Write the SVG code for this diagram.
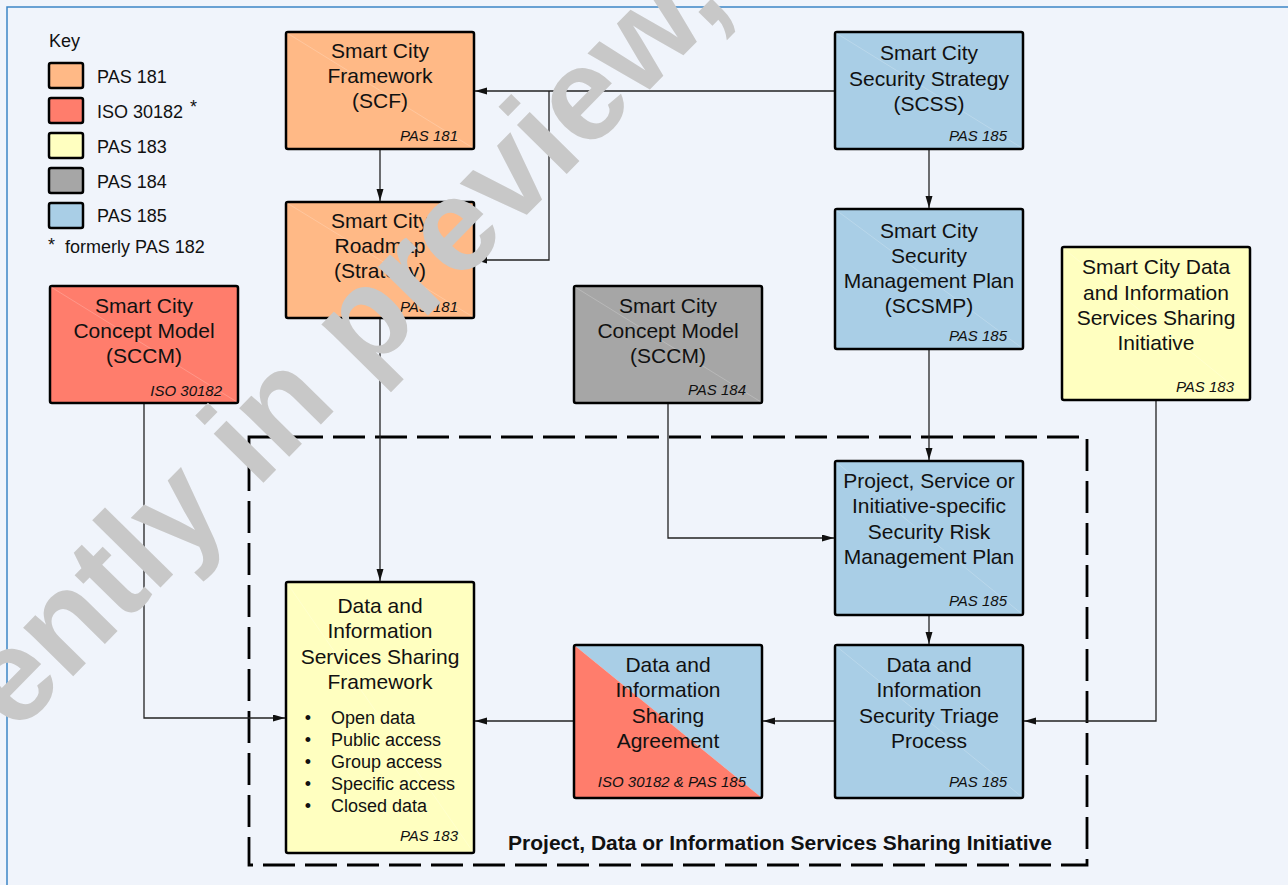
<svg xmlns="http://www.w3.org/2000/svg" width="1288" height="885" viewBox="0 0 1288 885">
<defs>
<style>
.t{font-family:"Liberation Sans",Arial,sans-serif;font-size:21px;fill:#111;text-anchor:middle}
.s{font-family:"Liberation Sans",Arial,sans-serif;font-size:15px;font-style:italic;fill:#111;text-anchor:end}
.k{font-family:"Liberation Sans",Arial,sans-serif;font-size:18px;fill:#111}
.b{font-family:"Liberation Sans",Arial,sans-serif;font-size:18px;fill:#111}
.box{stroke:#000;stroke-width:2.5}
.sw{stroke:#000;stroke-width:2.5}
.dg{stroke:#fff;stroke-opacity:0.25;stroke-width:0.8}
.c{fill:none;stroke:#222;stroke-width:1.3}
.o{fill:#FFB986}.r{fill:#FF7D6C}.y{fill:#FFFFC0}.g{fill:#A6A6A6}.bl{fill:#A9CEE6}
</style>
<marker id="ah" markerUnits="userSpaceOnUse" markerWidth="12" markerHeight="8" refX="12" refY="3.5" orient="auto">
<path d="M0,0 L12,3.5 L0,7 z" fill="#111"/>
</marker>
</defs>
<rect x="0" y="0" width="1288" height="885" fill="#F0F4FB"/>
<rect x="7" y="7" width="1300" height="900" fill="none" stroke="#3D85C6" stroke-width="1.5"/>

<g id="key">
<text class="k" x="49" y="47">Key</text>
<rect class="sw o" x="49" y="63" width="34" height="25" rx="2"/>
<rect class="sw r" x="49" y="98" width="34" height="25" rx="2"/>
<rect class="sw y" x="49" y="133" width="34" height="25" rx="2"/>
<rect class="sw g" x="49" y="168" width="34" height="25" rx="2"/>
<rect class="sw bl" x="49" y="203" width="34" height="25" rx="2"/>
<text class="k" x="97" y="83">PAS 181</text>
<text class="k" x="97" y="118">ISO 30182</text>
<text class="k" x="190" y="113" font-size="22">*</text>
<text class="k" x="97" y="153">PAS 183</text>
<text class="k" x="97" y="188">PAS 184</text>
<text class="k" x="97" y="222">PAS 185</text>
<text class="k" x="48" y="251" font-size="22">*</text>
<text class="k" x="65" y="253">formerly PAS 182</text>
</g>

<g id="frame">
<rect x="249" y="437" width="838" height="428" fill="none" stroke="#000" stroke-width="2.8" stroke-dasharray="32 10"/>
<text x="780" y="850" font-family="Liberation Sans,Arial,sans-serif" font-size="21" font-weight="bold" fill="#111" text-anchor="middle">Project, Data or Information Services Sharing Initiative</text>
</g>

<g id="connectors">
<path class="c" d="M835,91 H475" marker-end="url(#ah)"/>
<path class="c" d="M549,91 V260 H475" marker-end="url(#ah)"/>
<path class="c" d="M380,150 V201" marker-end="url(#ah)"/>
<path class="c" d="M929,150 V208" marker-end="url(#ah)"/>
<path class="c" d="M929,350 V460" marker-end="url(#ah)"/>
<path class="c" d="M380,319 V581" marker-end="url(#ah)"/>
<path class="c" d="M144,404 V718 H285" marker-end="url(#ah)"/>
<path class="c" d="M668,404 V538 H834" marker-end="url(#ah)"/>
<path class="c" d="M1156,401 V721 H1024" marker-end="url(#ah)"/>
<path class="c" d="M929,616 V644" marker-end="url(#ah)"/>
<path class="c" d="M834,721 H763" marker-end="url(#ah)"/>
<path class="c" d="M573,721 H475" marker-end="url(#ah)"/>
</g>

<g id="scf">
<rect class="box o" x="286" y="32" width="188" height="117" rx="2"/>
<line class="dg" x1="287" y1="33" x2="473" y2="148"/>
<text class="t" x="380" y="58">Smart City</text>
<text class="t" x="380" y="83">Framework</text>
<text class="t" x="380" y="108">(SCF)</text>
<text class="s" x="458" y="141">PAS 181</text>
</g>

<g id="roadmap">
<rect class="box o" x="286" y="202" width="188" height="116" rx="2"/>
<line class="dg" x1="287" y1="203" x2="473" y2="317"/>
<text class="t" x="380" y="228">Smart City</text>
<text class="t" x="380" y="253">Roadmap</text>
<text class="t" x="380" y="278">(Strategy)</text>
<text class="s" x="458" y="312">PAS 181</text>
</g>

<g id="scss">
<rect class="box bl" x="835" y="32" width="188" height="117" rx="2"/>
<line class="dg" x1="836" y1="33" x2="1022" y2="148"/>
<text class="t" x="929" y="60">Smart City</text>
<text class="t" x="929" y="86">Security Strategy</text>
<text class="t" x="929" y="111">(SCSS)</text>
<text class="s" x="1007" y="141">PAS 185</text>
</g>

<g id="scsmp">
<rect class="box bl" x="835" y="209" width="188" height="140" rx="2"/>
<line class="dg" x1="836" y1="210" x2="1022" y2="348"/>
<text class="t" x="929" y="238">Smart City</text>
<text class="t" x="929" y="263">Security</text>
<text class="t" x="929" y="288">Management Plan</text>
<text class="t" x="929" y="313">(SCSMP)</text>
<text class="s" x="1007" y="341">PAS 185</text>
</g>

<g id="sccm-iso">
<rect class="box r" x="50" y="286" width="188" height="117" rx="2"/>
<line class="dg" x1="51" y1="287" x2="237" y2="402"/>
<text class="t" x="144" y="313">Smart City</text>
<text class="t" x="144" y="338">Concept Model</text>
<text class="t" x="144" y="363">(SCCM)</text>
<text class="s" x="222" y="396">ISO 30182</text>
</g>

<g id="sccm-pas">
<rect class="box g" x="574" y="286" width="188" height="117" rx="2"/>
<line class="dg" x1="575" y1="287" x2="761" y2="402"/>
<text class="t" x="668" y="313">Smart City</text>
<text class="t" x="668" y="338">Concept Model</text>
<text class="t" x="668" y="363">(SCCM)</text>
<text class="s" x="746" y="395">PAS 184</text>
</g>

<g id="initiative">
<rect class="box y" x="1062" y="247" width="188" height="153" rx="2"/>
<line class="dg" x1="1063" y1="248" x2="1249" y2="399"/>
<text class="t" x="1156" y="274">Smart City Data</text>
<text class="t" x="1156" y="300">and Information</text>
<text class="t" x="1156" y="325">Services Sharing</text>
<text class="t" x="1156" y="350">Initiative</text>
<text class="s" x="1234" y="392">PAS 183</text>
</g>

<g id="riskplan">
<rect class="box bl" x="835" y="461" width="188" height="154" rx="2"/>
<line class="dg" x1="836" y1="462" x2="1022" y2="614"/>
<text class="t" x="929" y="488">Project, Service or</text>
<text class="t" x="929" y="513">Initiative-specific</text>
<text class="t" x="929" y="539">Security Risk</text>
<text class="t" x="929" y="564">Management Plan</text>
<text class="s" x="1007" y="606">PAS 185</text>
</g>

<g id="triage">
<rect class="box bl" x="835" y="645" width="188" height="153" rx="2"/>
<line class="dg" x1="836" y1="646" x2="1022" y2="797"/>
<text class="t" x="929" y="672">Data and</text>
<text class="t" x="929" y="697">Information</text>
<text class="t" x="929" y="723">Security Triage</text>
<text class="t" x="929" y="748">Process</text>
<text class="s" x="1007" y="787">PAS 185</text>
</g>

<g id="agreement">
<polygon class="bl" points="574,645 762,645 762,798"/>
<polygon class="r" points="574,645 574,798 762,798"/>
<rect class="box" x="574" y="645" width="188" height="153" rx="2" fill="none"/>
<text class="t" x="668" y="672">Data and</text>
<text class="t" x="668" y="697">Information</text>
<text class="t" x="668" y="723">Sharing</text>
<text class="t" x="668" y="748">Agreement</text>
<text class="s" x="746" y="787" font-size="16">ISO 30182 &amp; PAS 185</text>
</g>

<g id="framework">
<rect class="box y" x="286" y="582" width="188" height="271" rx="2"/>
<line class="dg" x1="287" y1="583" x2="473" y2="852"/>
<text class="t" x="380" y="613">Data and</text>
<text class="t" x="380" y="638">Information</text>
<text class="t" x="380" y="664">Services Sharing</text>
<text class="t" x="380" y="689">Framework</text>
<text class="b" x="308" y="724" text-anchor="middle">•</text>
<text class="b" x="331" y="724">Open data</text>
<text class="b" x="308" y="746" text-anchor="middle">•</text>
<text class="b" x="331" y="746">Public access</text>
<text class="b" x="308" y="768" text-anchor="middle">•</text>
<text class="b" x="331" y="768">Group access</text>
<text class="b" x="308" y="790" text-anchor="middle">•</text>
<text class="b" x="331" y="790">Specific access</text>
<text class="b" x="308" y="812" text-anchor="middle">•</text>
<text class="b" x="331" y="812">Closed data</text>
<text class="s" x="458" y="841">PAS 183</text>
</g>

<g id="watermark">
<text transform="translate(-180,934) rotate(-45.5)" font-family="Liberation Sans,Arial,sans-serif" font-size="132" font-weight="bold" fill="#C8C8C8">Currently in preview,</text>
</g>
</svg>
